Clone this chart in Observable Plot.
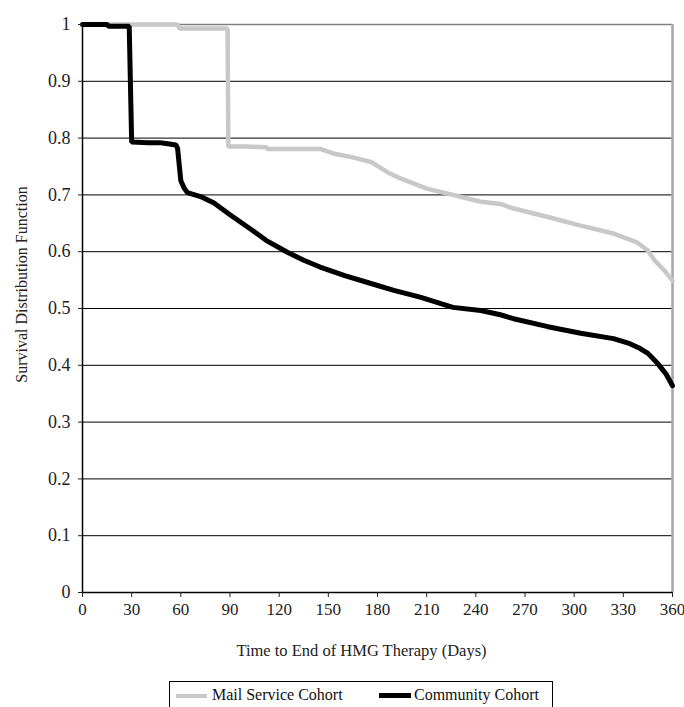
<!DOCTYPE html>
<html>
<head>
<meta charset="utf-8">
<script src="https://cdn.jsdelivr.net/npm/d3@7"></script>
<script src="https://cdn.jsdelivr.net/npm/@observablehq/plot@0.6"></script>
<style>
  html, body { margin: 0; padding: 0; background: #fff; }
  #wrap { position: relative; width: 684px; height: 707px; overflow: hidden; font-family: "Liberation Serif", "DejaVu Serif", serif; }
  #legend { position: absolute; left: 169px; top: 681px; width: 384px; height: 40px; border: 1.5px solid #000; box-sizing: border-box; }
  .sw { position: absolute; }
  .lt { position: absolute; font-size: 16px; line-height: 16px; color: #111; white-space: nowrap; }
</style>
</head>
<body>
<div id="wrap"><div id="chart"></div>
<div id="legend">
  <div class="sw" id="sw1"></div><div class="lt" id="lt1"></div>
  <div class="sw" id="sw2"></div><div class="lt" id="lt2"></div>
</div>
</div>
<script>
// Series names and colours
const seriesNames = ["Mail Service Cohort", "Community Cohort"];
const seriesColors = ["#c8c8c8", "#000000"];

// Mail Service Cohort: days and survival values
const mailDays = [0, 58, 59, 88.5, 89, 100, 112, 113, 145, 153, 165, 176, 186, 194, 210, 226, 243, 255, 263, 284, 304, 324, 338, 345, 349, 355, 360];
const mailSurv = [1, 1, 0.993, 0.993, 0.785, 0.785, 0.784, 0.781, 0.781, 0.773, 0.766, 0.758, 0.740, 0.729, 0.711, 0.700, 0.688, 0.684, 0.676, 0.661, 0.646, 0.632, 0.617, 0.602, 0.585, 0.567, 0.549];

// Community Cohort: days and survival values
const commDays = [0, 15, 16, 28.5, 30, 40, 47, 52, 57, 58, 60, 62, 64, 72, 80, 90, 104, 112, 125, 135, 145, 160, 176, 190, 206, 226, 243, 255, 263, 284, 304, 324, 334, 340, 345, 351, 356, 360];
const commSurv = [1, 1, 0.997, 0.997, 0.793, 0.792, 0.792, 0.790, 0.788, 0.782, 0.725, 0.712, 0.704, 0.697, 0.686, 0.665, 0.637, 0.620, 0.599, 0.585, 0.573, 0.558, 0.544, 0.532, 0.520, 0.502, 0.4965, 0.489, 0.482, 0.468, 0.4565, 0.447, 0.438, 0.430, 0.421, 0.403, 0.385, 0.364];

// Axis ticks and labels
const xTicks = [0, 30, 60, 90, 120, 150, 180, 210, 240, 270, 300, 330, 360];
const yTicks = [0, 0.1, 0.2, 0.3, 0.4, 0.5, 0.6, 0.7, 0.8, 0.9, 1];
const gridValues = [0.1, 0.2, 0.3, 0.4, 0.5, 0.6, 0.7, 0.8, 0.9];
const xLabel = "Time to End of HMG Therapy (Days)";
const yLabel = "Survival Distribution Function";

const mailData = mailDays.map((d, i) => ({day: d, s: mailSurv[i]}));
const commData = commDays.map((d, i) => ({day: d, s: commSurv[i]}));

const chart = Plot.plot({
  width: 684,
  height: 672,
  marginLeft: 82,
  marginRight: 12,
  marginTop: 24,
  marginBottom: 80,
  style: {fontFamily: "Liberation Serif, DejaVu Serif, serif", fontSize: "18px", color: "#222", background: "#fff"},
  x: {domain: [0, 360]},
  y: {domain: [0, 1]},
  marks: [
    Plot.ruleY(gridValues, {stroke: "#000", strokeWidth: 1}),
    Plot.ruleY([1], {stroke: "#7f7f7f", strokeWidth: 1.5}),
    Plot.ruleX([360], {stroke: "#a6a6a6", strokeWidth: 2.5}),
    Plot.line(mailData, {x: "day", y: "s", stroke: seriesColors[0], strokeWidth: 4.5, strokeLinejoin: "miter"}),
    Plot.line(commData, {x: "day", y: "s", stroke: seriesColors[1], strokeWidth: 5, strokeLinejoin: "miter"}),
    Plot.ruleX([0], {stroke: "#000", strokeWidth: 1.5}),
    Plot.ruleY([0], {stroke: "#000", strokeWidth: 1.5}),
    Plot.axisX({ticks: xTicks, tickSize: 5, tickPadding: 5, label: null, tickFormat: d => String(d), fontSize: 17}),
    Plot.axisY({ticks: yTicks, tickSize: 4, tickPadding: 8, label: null, tickFormat: d => String(+d.toFixed(1)), fontSize: 18}),
    Plot.text([yLabel], {frameAnchor: "left", textAnchor: "middle", rotate: -90, dx: -61, dy: -24, fontSize: 16, fill: "#222"}),
    Plot.text([xLabel], {frameAnchor: "bottom", textAnchor: "middle", dy: 63, dx: -16, fontSize: 16.5, fill: "#222"})
  ]
});
document.getElementById("chart").appendChild(chart);

// Legend built from series arrays
const sw1 = document.getElementById("sw1");
Object.assign(sw1.style, {left: "6px", top: "11.5px", width: "31px", height: "4px", background: seriesColors[0]});
const lt1 = document.getElementById("lt1");
Object.assign(lt1.style, {left: "42px", top: "5px"});
lt1.textContent = seriesNames[0];
const sw2 = document.getElementById("sw2");
Object.assign(sw2.style, {left: "209px", top: "11px", width: "32px", height: "5px", background: seriesColors[1]});
const lt2 = document.getElementById("lt2");
Object.assign(lt2.style, {left: "244px", top: "5px"});
lt2.textContent = seriesNames[1];
</script>
</body>
</html>
